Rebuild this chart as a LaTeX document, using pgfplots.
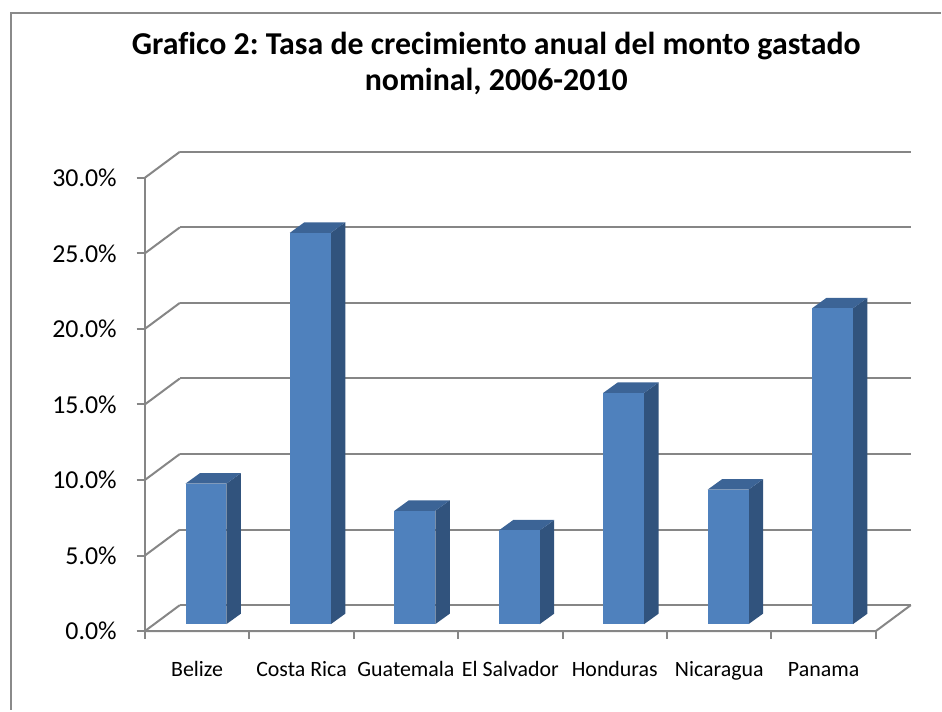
\documentclass[border=0pt]{standalone}
\usepackage{fontspec}
\setmainfont{Carlito}[Ligatures=NoCommon]
\usepackage{pgfplots}
\usepackage{pgfplotstable}
\pgfplotsset{compat=1.18}
\frenchspacing
\definecolor{gridc}{HTML}{868686}
\definecolor{borderc}{HTML}{8A8A8A}
\definecolor{barfront}{HTML}{4F81BD}
\definecolor{bartop}{HTML}{3C6496}
\definecolor{barside}{HTML}{31537D}
\pgfplotstableread{
idx val
0 9.3
1 25.9
2 7.5
3 6.2
4 15.3
5 8.9
6 20.9
}\datatable
\def\DX{0.3347}
\def\DY{1.718}
\begin{document}
\begin{tikzpicture}
\begin{axis}[
  scale only axis, width=942bp, height=711bp,
  xmin=-1.3866, xmax=7.6217, ymin=-5.2204, ymax=41.763,
  axis x line*=bottom, axis y line*=left,
  axis line style={draw=none},
  major tick length=0pt,
  clip=false,
  ytick={0,5,10,15,20,25,30},
  yticklabels={0.0\%,5.0\%,10.0\%,15.0\%,20.0\%,25.0\%,30.0\%},
  yticklabel style={anchor=east, xshift=117bp, inner sep=0pt, font=\fontsize{26}{30}\selectfont},
  xtick={0.5,1.5,2.5,3.5,4.5,5.5,6.5},
  xticklabels={Belize,Costa Rica,Guatemala,El Salvador,Honduras,Nicaragua,Panama},
  xticklabel style={anchor=base, yshift=34bp, inner sep=0pt, font=\fontsize{22}{26}\selectfont},
]
% border (chart area frame, left and top visible)
\draw[borderc, line width=2.5bp] (axis cs:-1.2814,-5.2204) -- (axis cs:-1.2814,40.90) -- (axis cs:7.6217,40.90);
% back wall gridlines and left wall diagonals
\pgfplotsinvokeforeach{0,5,10,15,20,25,30}{
  \addplot[gridc, line width=2bp] coordinates {(\DX,#1+\DY) (7+\DX,#1+\DY)};
  \addplot[gridc, line width=2bp] coordinates {(0,#1) (\DX,#1+\DY)};
  \addplot[gridc, line width=2bp] coordinates {(-0.08,#1) (0,#1)};
}
% front vertical axis
\addplot[gridc, line width=2bp] coordinates {(0,0) (0,30)};
% floor
\addplot[gridc, line width=2bp] coordinates {(0,0) (7,0) (7+\DX,\DY)};
\pgfplotsinvokeforeach{0,...,7}{
  \addplot[gridc, line width=2bp] coordinates {(#1,0) (#1,-0.55)};
}
% bars
\pgfplotsinvokeforeach{0,...,6}{
  \pgfplotstablegetelem{#1}{val}\of\datatable
  \pgfmathsetmacro\vv{\pgfplotsretval}
  \pgfmathsetmacro\xa{#1+0.389}
  \pgfmathsetmacro\xb{#1+0.781}
  \pgfmathsetmacro\xc{#1+0.389+0.1387}
  \pgfmathsetmacro\xd{#1+0.781+0.1387}
  \pgfmathsetmacro\yb{0.46}
  \pgfmathsetmacro\ybb{0.46+0.694}
  \pgfmathsetmacro\yt{0.46+\vv}
  \pgfmathsetmacro\ytt{0.46+\vv+0.694}
  \edef\temp{%
    \noexpand\addplot[fill=barside, draw=none] coordinates {(\xb,\yb) (\xd,\ybb) (\xd,\ytt) (\xb,\yt)};
    \noexpand\addplot[fill=bartop, draw=none] coordinates {(\xa,\yt) (\xb,\yt) (\xd,\ytt) (\xc,\ytt)};
    \noexpand\addplot[fill=barfront, draw=none] coordinates {(\xa,\yb) (\xb,\yb) (\xb,\yt) (\xa,\yt)};
  }\temp
}
% title
\node[align=center, font=\fontsize{32}{36.5}\selectfont\bfseries] at (axis cs:3.365,37.55)
  {Grafico 2: Tasa de crecimiento anual del monto gastado\\nominal, 2006-2010};
\end{axis}
\end{tikzpicture}
\end{document}
